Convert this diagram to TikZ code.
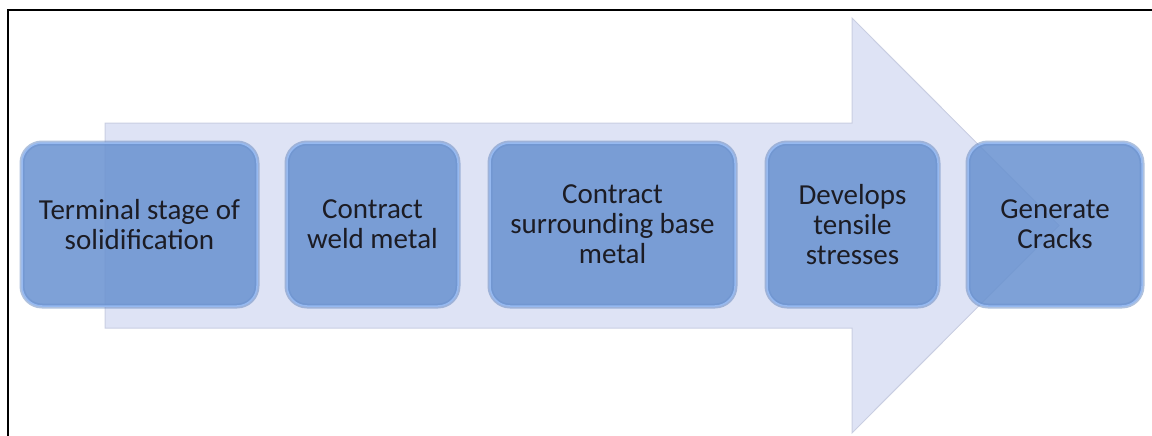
\documentclass[tikz,border=0pt]{standalone}
\usepackage{fontspec}
\setmainfont{Carlito}

\definecolor{arrowfill}{HTML}{DEE3F5}
\definecolor{arrowedge}{HTML}{C9CEE2}
\definecolor{boxfill}{HTML}{6C94D1}
\definecolor{boxedge}{HTML}{96B9F0}
\definecolor{boxrim}{HTML}{5F83BC}
\definecolor{stagetext}{HTML}{1C1C24}

\tikzset{
	stage/.style={rounded corners=20pt, fill=boxfill, fill opacity=0.88, text opacity=1,
		draw=boxedge, line width=1.5pt, text=stagetext, align=center,
		minimum height=163pt, inner sep=4pt,
		font=\fontsize{29}{30}\selectfont,
		preaction={draw=boxrim, draw opacity=0.5, line width=5pt, rounded corners=20pt}}
}

\begin{document}
\begin{tikzpicture}[x=1pt, y=-1pt]
		\useasboundingbox (0, 0) rectangle (1152, 436);
		
		% frame, cut off on the right and at the bottom
		\draw[line width=1.3pt] (8, 450) -- (8, 10) -- (1160, 10);
		
		% big background arrow
		\draw[fill=arrowfill, draw=arrowedge, line width=1pt]
			(105, 123) -- (852, 123) -- (852, 18) -- (1059, 225.5)
			-- (852, 433) -- (852, 328) -- (105, 328) -- cycle;
		
		\node[stage, minimum width=235pt] (s1) at (139.5, 224.5) {Terminal stage of\\solidification};
		\node[stage, minimum width=171pt] (s2) at (372.5, 224.5) {Contract\\weld metal};
		\node[stage, minimum width=245pt] (s3) at (612.5, 224.5) {Contract\\surrounding base\\metal};
		\node[stage, minimum width=171pt] (s4) at (852.5, 224.5) {Develops\\tensile\\stresses};
		\node[stage, minimum width=174pt] (s5) at (1055, 224.5) {Generate\\Cracks};
	\end{tikzpicture}
\end{document}
